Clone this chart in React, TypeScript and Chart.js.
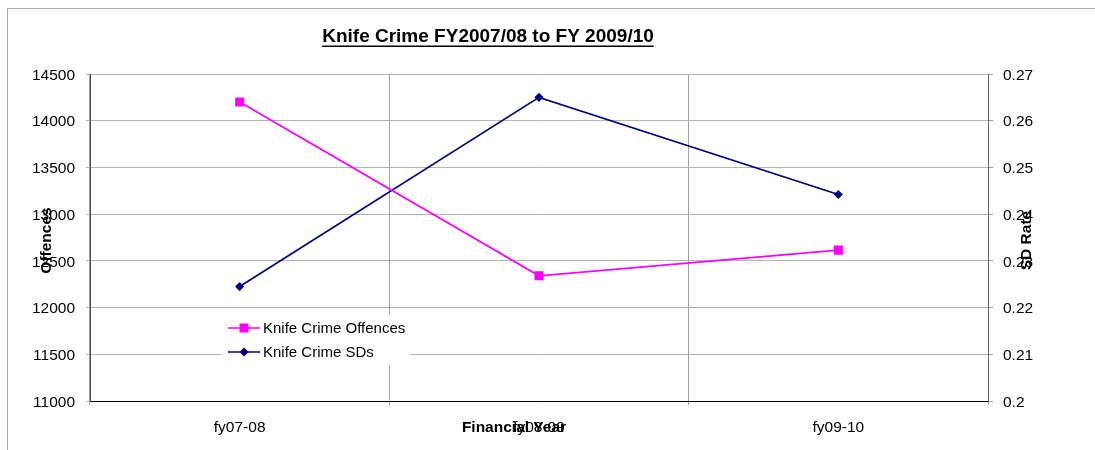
import React, { useEffect, useRef } from "react";
import { Chart, registerables } from "chart.js";

Chart.register(...registerables);

const years = ["fy07-08", "fy08-09", "fy09-10"];
const offences = [14200, 12340, 12615];
const sdRate = [0.2245, 0.265, 0.2442];

const chartTitle = "Knife Crime FY2007/08 to FY 2009/10";
const leftTitle = "Offences";
const rightTitle = "SD Rate";
const bottomTitle = "Financial Year";
const offenceLabel = "Knife Crime Offences";
const sdLabel = "Knife Crime SDs";

const FONT = "'Liberation Sans', Arial, sans-serif";
const MAGENTA = "#ff00ff";
const NAVY = "#000080";
const TICK_SIZE = 15.5;

const overlay = {
  id: "overlay",
  afterDraw(chart: any) {
    const ctx = chart.ctx as CanvasRenderingContext2D;
    const area = chart.chartArea;
    ctx.save();

    // outer frame (left and top edges visible)
    ctx.strokeStyle = "#a8a8a8";
    ctx.lineWidth = 1;
    ctx.strokeRect(7.5, 8.5, 1100, 460);

    // title, bold and underlined
    ctx.fillStyle = "#000";
    ctx.font = `bold 19px ${FONT}`;
    ctx.textAlign = "center";
    ctx.textBaseline = "middle";
    const tx = 488;
    const ty = 37;
    ctx.fillText(chartTitle, tx, ty);
    const tw = ctx.measureText(chartTitle).width;
    ctx.fillRect(tx - tw / 2, ty + 8.5, tw, 1.5);

    // axis titles
    ctx.font = `bold 15.5px ${FONT}`;
    const midY = (area.top + area.bottom) / 2 + 3;
    ctx.save();
    ctx.translate(47, midY);
    ctx.rotate(-Math.PI / 2);
    ctx.fillText(leftTitle, 0, 0);
    ctx.restore();
    ctx.save();
    ctx.translate(1027, midY);
    ctx.rotate(-Math.PI / 2);
    ctx.fillText(rightTitle, 0, 0);
    ctx.restore();
    ctx.fillText(bottomTitle, 514, 428);

    // legend box inside the plot
    ctx.fillStyle = "#fff";
    ctx.fillRect(222, 315, 188, 50);
    const rows = [
      { y: 328, color: chart.data.datasets[0].borderColor, label: chart.data.datasets[0].label, shape: "square" },
      { y: 352, color: chart.data.datasets[1].borderColor, label: chart.data.datasets[1].label, shape: "diamond" },
    ];
    rows.forEach((r) => {
      ctx.strokeStyle = r.color;
      ctx.lineWidth = 1.5;
      ctx.beginPath();
      ctx.moveTo(228, r.y);
      ctx.lineTo(260, r.y);
      ctx.stroke();
      ctx.fillStyle = r.color;
      if (r.shape === "square") {
        ctx.fillRect(244 - 4.5, r.y - 4.5, 9, 9);
      } else {
        ctx.beginPath();
        ctx.moveTo(244, r.y - 4.5);
        ctx.lineTo(248.5, r.y);
        ctx.lineTo(244, r.y + 4.5);
        ctx.lineTo(239.5, r.y);
        ctx.closePath();
        ctx.fill();
      }
      ctx.fillStyle = "#000";
      ctx.font = `15px ${FONT}`;
      ctx.textAlign = "left";
      ctx.fillText(r.label, 263, r.y + 1);
    });

    ctx.restore();
  },
};

export default function App() {
  const canvasRef = useRef<HTMLCanvasElement | null>(null);

  useEffect(() => {
    const canvas = canvasRef.current;
    if (!canvas) return;
    const chart = new Chart(canvas, {
      type: "line",
      data: {
        labels: years,
        datasets: [
          {
            label: offenceLabel,
            data: offences,
            yAxisID: "y",
            borderColor: MAGENTA,
            backgroundColor: MAGENTA,
            borderWidth: 1.75,
            pointStyle: "rect",
            pointRadius: 6.4,
            pointBorderWidth: 0,
            tension: 0,
          },
          {
            label: sdLabel,
            data: sdRate,
            yAxisID: "y1",
            borderColor: NAVY,
            backgroundColor: NAVY,
            borderWidth: 1.75,
            pointStyle: "rectRot",
            pointRadius: 4.6,
            pointBorderWidth: 0,
            tension: 0,
          },
        ],
      },
      options: {
        responsive: false,
        animation: false,
        layout: { padding: { top: 74, left: 0, right: 0, bottom: 0 } },
        plugins: {
          legend: { display: false },
          title: { display: false },
          tooltip: { enabled: false },
        },
        scales: {
          x: {
            type: "category",
            offset: true,
            grid: { color: "#a0a0a0", offset: true, tickLength: 4, lineWidth: 1 },
            border: { color: "#000", width: 1 },
            ticks: { color: "#000", font: { family: FONT, size: TICK_SIZE }, padding: 13 },
            afterFit(scale: any) {
              scale.height = 49;
            },
          },
          y: {
            position: "left",
            min: 11000,
            max: 14500,
            grid: { color: "#b4b4b4", tickLength: 4, lineWidth: 1 },
            border: { color: "#444", width: 1 },
            ticks: {
              stepSize: 500,
              color: "#000",
              font: { family: FONT, size: TICK_SIZE },
              padding: 11,
              labelOffset: 1.5,
              callback: (v: any) => String(v),
            },
            afterFit(scale: any) {
              scale.width = 90;
            },
          },
          y1: {
            position: "right",
            min: 0.2,
            max: 0.27,
            grid: { drawOnChartArea: false, color: "#999", tickLength: 5 },
            border: { color: "#666", width: 1 },
            ticks: {
              stepSize: 0.01,
              color: "#000",
              font: { family: FONT, size: TICK_SIZE },
              padding: 10,
              labelOffset: 1.5,
              callback: (v: any) => String(parseFloat(Number(v).toFixed(2))),
            },
            afterFit(scale: any) {
              scale.width = 107;
            },
          },
        },
      },
      plugins: [overlay],
    });
    return () => chart.destroy();
  }, []);

  return (
    <div style={{ position: "fixed", left: 0, top: 0, width: 1095, height: 450, background: "#fff" }}>
      <canvas ref={canvasRef} width={1095} height={450} style={{ width: 1095, height: 450, display: "block" }} />
    </div>
  );
}
